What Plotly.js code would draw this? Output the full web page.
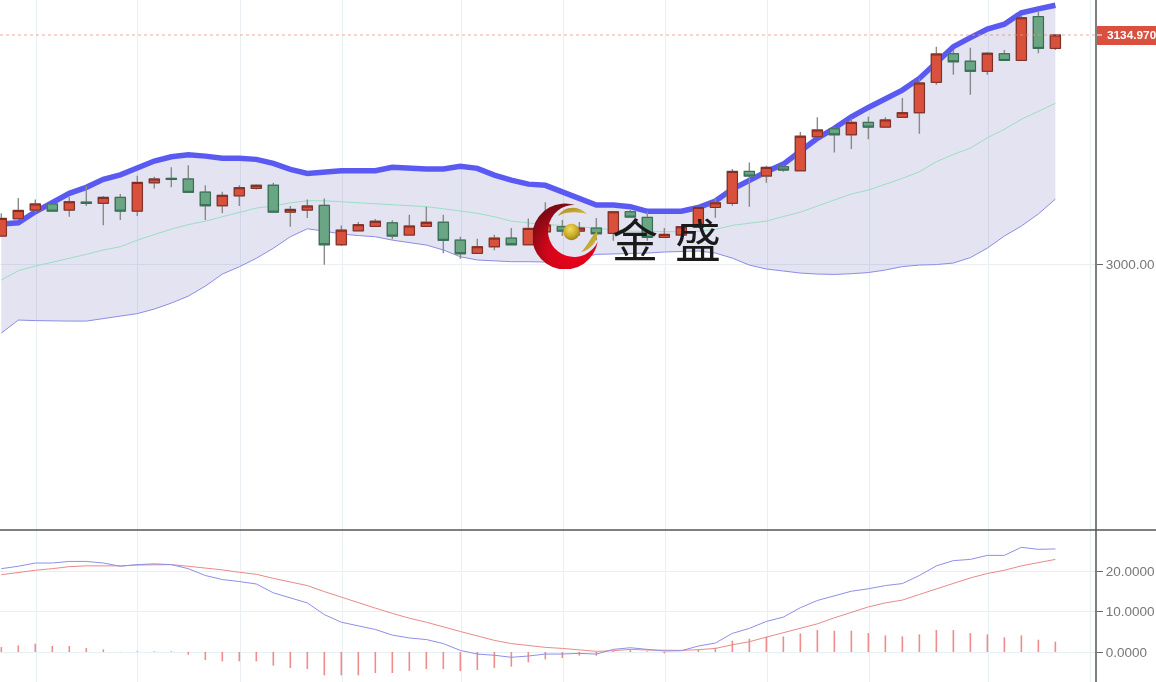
<!DOCTYPE html>
<html>
<head>
<meta charset="utf-8">
<script src="https://cdn.plot.ly/plotly-3.0.1.min.js"></script>
<style>
html,body{margin:0;padding:0;background:#fff;overflow:hidden;width:1156px;height:682px}
#chart{width:1156px;height:682px;filter:blur(0.55px)}
</style>
</head>
<body>
<div id="chart"></div>
<script>
const open_ = [3016.5,3026.7,3031.8,3035.4,3031.8,3036.5,3035.8,3039.3,3031.2,3047.9,3050.5,3050.1,3042.4,3034.4,3040.2,3044.6,3046.4,3030.6,3031.8,3034.6,3011.4,3019.6,3022.2,3024.3,3017.1,3022.2,3024.6,3014.1,3006.3,3010.2,3015.3,3011.4,3019,3022,3019.4,3021.2,3018.1,3030.8,3027.5,3015.7,3017.1,3021.6,3033.4,3035.8,3054.6,3051.9,3057.3,3055,3075,3079.7,3076.2,3083.5,3080.7,3086.5,3089.2,3107.1,3123.9,3119.5,3113.6,3123.9,3120,3145.8,3127.1];
const high = [3029.9,3038.9,3038.1,3035.4,3039.7,3046,3040.1,3041.3,3052,3051.4,3057,3058.2,3046.4,3042.6,3046.4,3047,3047.9,3034.2,3038.1,3038.7,3022.7,3024.8,3026.5,3025.8,3029.1,3033.8,3029.1,3016.1,3014.9,3017.3,3021.2,3026.9,3036.4,3025.9,3024.8,3027.1,3030.8,3031.8,3030.8,3021.2,3022,3033.4,3038.7,3056,3059.9,3057.9,3058.3,3077.8,3086.5,3080.6,3085.9,3086.8,3086.5,3097.8,3109.4,3128.1,3126.1,3127.5,3124.9,3126.1,3146.1,3148.7,3134.97];
const low = [3016.5,3026.7,3030.6,3031.2,3027.9,3034.2,3022.8,3025.9,3028.3,3044.6,3045.2,3042.3,3025.9,3029.9,3034.2,3044,3030.6,3022,3027.1,2999.6,3010.6,3019.6,3022.2,3014.6,3017.1,3022.2,3006.3,3003.1,3006.3,3008.1,3011.4,3011.4,3015,3016.5,3016.5,3014.1,3013.7,3027.7,3013.7,3015.7,3017.1,3021.6,3027.3,3034.4,3033.8,3047.9,3054.4,3055,3075,3065.8,3067.8,3073.5,3080.7,3086.5,3076.8,3105.7,3111.6,3099.8,3111.6,3120,3120,3124.2,3126.1];
const close_ = [3026.9,3031.6,3035.4,3031.2,3036.7,3035.8,3039.3,3031.2,3048.1,3050.1,3049.9,3042.3,3034.4,3040.5,3045,3046.4,3030.6,3032.2,3034.2,3011.4,3020,3023.2,3025.2,3016.5,3022.4,3024.6,3014,3006.1,3010.2,3015.3,3011.4,3021,3023,3019.4,3021.2,3017.9,3030.8,3027.7,3015.7,3017.5,3022,3033.4,3036.1,3054.6,3051.9,3057,3055.4,3075.3,3079,3076.2,3083.5,3080.7,3084.9,3089.2,3106.7,3123.8,3119.2,3113.6,3124.2,3120,3145.1,3127.1,3134.97];
const bandUpper = [3023.6,3024.3,3030.8,3036.7,3041.7,3045.2,3049.9,3052.6,3057,3060.7,3063.2,3064.4,3063.6,3062.3,3062.3,3061.7,3059.3,3055.8,3053.4,3054.4,3055,3055,3055,3057,3056.2,3056,3056,3057.6,3056.4,3052.4,3049.5,3047.1,3046.4,3042.6,3038.7,3034.8,3034.8,3033.8,3031.1,3031.1,3031.1,3033.3,3037.1,3044.2,3049.5,3054.4,3058.9,3066.2,3074.1,3080,3086.8,3092.3,3097.6,3102.5,3109.4,3118.9,3128.1,3133.4,3138.5,3141.3,3148.1,3150.4,3152.5];
const bandMid = [2990.6,2996.1,2998.8,3001,3003.4,3005.7,3008.3,3010.2,3014.1,3017.5,3020.6,3023.2,3025.3,3027.9,3030.5,3033,3034.2,3036.1,3037.3,3037.3,3036.7,3036.1,3035.8,3034.9,3034.6,3033.8,3032.6,3031.1,3029.9,3027.9,3025.3,3024.3,3023.2,3022.8,3022,3020.8,3020,3019.4,3019.2,3019,3019,3019.2,3020.4,3022.8,3024.2,3025.3,3028,3030.6,3034.2,3037.7,3041.3,3043.6,3047,3050.5,3054.4,3060.3,3064.6,3068.4,3074.4,3079.4,3085.3,3090.2,3094.7];
const bandLower = [2959.3,2967,2966.7,2966.4,2966.4,2966.4,2967.9,2969.1,2970.8,2973.5,2977,2981.1,2987,2994.1,2998.4,3003.4,3009.3,3016.1,3020.8,3019.4,3017.7,3016.8,3016.1,3014.1,3012.8,3011.2,3008.3,3004.3,3002.4,3001.8,3001.4,3001.4,3001.2,3001.8,3003.5,3005.7,3005.9,3005.9,3006.5,3007.1,3007.4,3007.7,3006.5,3003.5,2999.4,2997.1,2995.9,2994.7,2994.1,2993.9,2994.3,2995,2996.5,2998.5,2999.4,2999.7,3000.6,3003.8,3009.4,3016.5,3022.4,3029.5,3038.3];
const macdDif = [20.7,21.3,22.1,22.1,22.5,22.5,22.1,21.3,21.7,21.9,21.7,20.7,19,18,17.5,16.9,14.7,13.4,12.2,9.3,7.4,6.5,5.6,4.2,3.5,3.1,2.1,0.4,-0.5,-0.8,-1.3,-1,-0.5,-0.5,-0.33,-0.5,0.66,1.07,0.58,0.25,0.33,1.49,2.23,4.63,5.87,7.6,8.68,11,12.8,13.9,15.1,15.7,16.5,17,19,21.4,22.7,23,24,24,26,25.5,25.6];
const macdDea = [19.2,19.8,20.3,20.7,21.2,21.4,21.4,21.4,21.6,21.7,21.7,21.3,20.9,20.4,19.8,19.3,18.3,17.4,16.5,15,13.6,12.2,10.9,9.6,8.4,7.4,6.2,5.1,4,2.9,2.1,1.65,1.16,0.9,0.5,0.17,0.33,0.66,0.5,0.41,0.41,0.58,0.9,1.8,2.56,3.7,4.8,5.8,7,8.5,9.9,11.2,12.2,12.9,14.3,15.7,17.1,18.4,19.5,20.3,21.4,22.2,23];
const macdHist = [1.24,1.65,2.07,1.49,1.49,0.99,0.66,0.05,0.17,0.17,0.17,-0.66,-1.98,-2.31,-2.31,-2.31,-3.39,-3.97,-4.21,-5.79,-5.79,-5.79,-5.21,-5.21,-4.71,-4.21,-4.21,-4.71,-4.46,-3.97,-3.64,-2.56,-1.82,-1.49,-0.9,-0.9,0.33,0.66,0.17,-0.33,0,0.66,1.07,2.81,3.31,3.8,3.88,4.63,5.45,5.29,5.29,4.71,4.13,3.88,4.38,5.45,5.45,4.71,4.38,3.64,4.13,3.06,2.56];
const gridX = [2.08,8.04,14.08,20.08,27.04,33.04,39.04,45.04,51.04,58.04,64.08];
const priceTicks = [3000];
const priceTickText = ['3000.00'];
const macdTicks = [0,10,20];
const macdTickText = ['0.0000','10.0000','20.0000'];
const lastPrice = 3134.97;
const lastPriceText = '3134.970';
const logoChars = ['金','盛'];

const xs = close_.map((_, i) => i);
const W = 1156, H = 682, PW = 1096, SPLIT = 530;
const px = v => v / PW;
const py = v => 1 - v / H;
const FONT = '"Liberation Sans", Arial, sans-serif';
const GRID = '#e9f0f4';

const logoSvg = `<svg xmlns="http://www.w3.org/2000/svg" viewBox="0 0 66 66" width="264" height="264">
<defs>
<radialGradient id="r" cx="0.62" cy="0.72" r="0.72"><stop offset="0" stop-color="#f4001a"/><stop offset="0.55" stop-color="#d0061a"/><stop offset="1" stop-color="#7c0a14"/></radialGradient>
<radialGradient id="g" cx="0.42" cy="0.32" r="0.75"><stop offset="0" stop-color="#f0dc60"/><stop offset="0.6" stop-color="#c9a825"/><stop offset="1" stop-color="#8a7420"/></radialGradient>
<linearGradient id="s" x1="0" y1="0" x2="1" y2="1"><stop offset="0" stop-color="#a88a1e"/><stop offset="1" stop-color="#dcc04a"/></linearGradient>
</defs>
<path d="M42,2 A33,33 0 1 0 64.7,38.7 A26,26 0 1 1 42,2 Z" fill="url(#r)"/>
<circle cx="38.5" cy="29" r="8.2" fill="url(#g)"/>
<path d="M25,13 C30,4 44,1 54,11 C46,9 34,8 25,13 Z" fill="url(#s)"/>
<path d="M48,49 C54,44 57,35 64,28 C66,37 58,47 48,49 Z" fill="url(#s)"/>
</svg>`;

const traces = [
  {type:'scatter', mode:'lines', x:xs, y:bandLower, xaxis:'x', yaxis:'y', line:{color:'#8c8ce8', width:1}, hoverinfo:'skip'},
  {type:'scatter', mode:'lines', x:xs, y:bandUpper, xaxis:'x', yaxis:'y', line:{color:'#5a5af2', width:5.5}, fill:'tonexty', fillcolor:'rgba(70,70,160,0.15)', hoverinfo:'skip'},
  {type:'scatter', mode:'lines', x:xs, y:bandMid, xaxis:'x', yaxis:'y', line:{color:'#9adfc4', width:1}, hoverinfo:'skip'},
  {type:'candlestick', x:xs, open:open_, high:high, low:low, close:close_, xaxis:'x', yaxis:'y3',
   increasing:{line:{color:'#8a8a8a', width:1.4}, fillcolor:'#d9513d'}, decreasing:{line:{color:'#8a8a8a', width:1.4}, fillcolor:'#6aa584'}, hoverinfo:'skip'},
  {type:'candlestick', x:xs, open:open_, close:close_,
   high:open_.map((o,i)=>Math.max(o,close_[i])), low:open_.map((o,i)=>Math.min(o,close_[i])), xaxis:'x', yaxis:'y3',
   increasing:{line:{color:'#7d2a20', width:1}, fillcolor:'#d9513d'}, decreasing:{line:{color:'#2f6b50', width:1}, fillcolor:'#6aa584'}, hoverinfo:'skip'},
  {type:'bar', x:xs, y:macdHist, xaxis:'x', yaxis:'y2', width:0.095, marker:{color:'rgba(230,70,70,0.62)', line:{width:0}}, hoverinfo:'skip'},
  {type:'scatter', mode:'lines', x:xs, y:macdDea, xaxis:'x', yaxis:'y2', line:{color:'#e98a8a', width:1}, hoverinfo:'skip'},
  {type:'scatter', mode:'lines', x:xs, y:macdDif, xaxis:'x', yaxis:'y2', line:{color:'#8f8fe6', width:1}, hoverinfo:'skip'}
];

const domSplit = 1 - SPLIT / H;
const priceRange = [2843.3, 3155.6];
const layout = {
  width:W, height:H, margin:{l:0, r:W-PW, t:0, b:0, pad:0},
  paper_bgcolor:'#fff', plot_bgcolor:'#fff', showlegend:false, boxmode:'overlay', boxgap:0.15, hovermode:false,
  font:{family:FONT, color:'#777', size:13.5},
  xaxis:{range:[-0.0765,64.39], tickvals:gridX, ticks:'', showticklabels:false, showgrid:true, gridcolor:GRID, gridwidth:1, zeroline:false, showline:false, rangeslider:{visible:false}, anchor:'y2', fixedrange:true},
  yaxis:{domain:[domSplit,1], range:priceRange, side:'right', anchor:'x', tickmode:'array', tickvals:priceTicks, ticktext:priceTickText, ticks:'outside', ticklen:6, tickcolor:'#666', tickwidth:1, showgrid:true, gridcolor:GRID, zeroline:false, showline:false, fixedrange:true},
  yaxis3:{domain:[domSplit,1], range:priceRange, overlaying:'y', side:'right', anchor:'x', visible:false, showgrid:false, zeroline:false, fixedrange:true},
  yaxis2:{domain:[0,domSplit], range:[-7.44,30.3], side:'right', anchor:'x', tickmode:'array', tickvals:macdTicks, ticktext:macdTickText, ticks:'outside', ticklen:6, tickcolor:'#666', tickwidth:1, showgrid:true, gridcolor:GRID, zeroline:false, showline:false, fixedrange:true},
  shapes:[
    {type:'line', xref:'paper', yref:'y', x0:0, x1:1, y0:lastPrice, y1:lastPrice, line:{color:'#e79485', width:0.8, dash:'dot'}},
    {type:'rect', xref:'paper', yref:'paper', x0:px(1097), x1:px(W+2), y0:py(45), y1:py(26), fillcolor:'#d9503f', line:{width:0}},
    {type:'line', xref:'paper', yref:'paper', x0:px(1097), x1:px(1102), y0:py(35), y1:py(35), line:{color:'#ffffff', width:1}},
    {type:'line', xref:'paper', yref:'paper', x0:1, x1:1, y0:0, y1:1, line:{color:'#555', width:1.5}},
    {type:'line', xref:'paper', yref:'paper', x0:0, x1:px(W), y0:py(SPLIT), y1:py(SPLIT), line:{color:'#555', width:1.5}}
  ],
  images:[{source:'data:image/svg+xml;charset=utf-8,'+encodeURIComponent(logoSvg), xref:'paper', yref:'paper', x:px(533), y:py(203), sizex:px(66), sizey:66/H, xanchor:'left', yanchor:'top', sizing:'stretch', layer:'above'}],
  annotations:[
    {xref:'paper', yref:'paper', x:px(1104.5), y:py(35.5), xanchor:'left', yanchor:'middle', text:lastPriceText, showarrow:false, font:{family:FONT, size:11.8, color:'#fff', weight:700}},
    {xref:'paper', yref:'paper', x:px(635), y:py(237), xanchor:'center', yanchor:'middle', text:logoChars[0], showarrow:false, font:{family:'"Noto Sans CJK SC"', size:46, color:'#1a1a1a'}},
    {xref:'paper', yref:'paper', x:px(698), y:py(237), xanchor:'center', yanchor:'middle', text:logoChars[1], showarrow:false, font:{family:'"Noto Sans CJK SC"', size:46, color:'#1a1a1a'}}
  ]
};
Plotly.newPlot('chart', traces, layout, {displayModeBar:false, staticPlot:true});
</script>
</body>
</html>
